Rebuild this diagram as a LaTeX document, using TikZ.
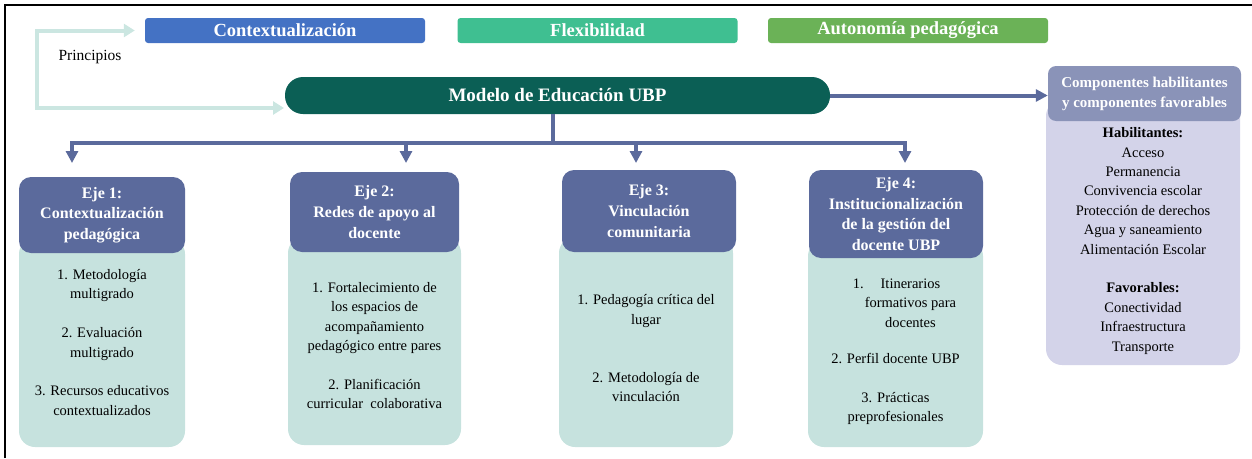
\documentclass[tikz,border=0pt]{standalone}
\usepackage{fontspec}
\setmainfont{Liberation Serif}
\usetikzlibrary{arrows.meta}

\definecolor{azulctx}{HTML}{4472C4}
\definecolor{verdeflex}{HTML}{3FBF91}
\definecolor{verdeauto}{HTML}{6BB257}
\definecolor{verdemodelo}{HTML}{0B5F55}
\definecolor{azuleje}{HTML}{5B6A9C}
\definecolor{aguaeje}{HTML}{C6E2DE}
\definecolor{lilacomp}{HTML}{8A93B8}
\definecolor{lilafondo}{HTML}{D3D3E9}
\definecolor{guiaclaro}{HTML}{CBE6E1}

\begin{document}
\begin{tikzpicture}[x=1pt,y=-1pt,>={Triangle[width=12pt,length=12pt]},
  principio/.style={fill=#1,rounded corners=3pt,minimum width=280pt,minimum height=25pt,
    inner sep=0pt,text=white,font=\fontsize{18.5}{20}\selectfont\bfseries},
  modelo/.style={fill=verdemodelo,rounded corners=18pt,minimum width=545pt,minimum height=37pt,
    inner sep=0pt,text=white,font=\fontsize{19}{21}\selectfont\bfseries},
  ejecab/.style={fill=azuleje,rounded corners=12pt,inner sep=0pt,align=center,text=white,
    font=\fontsize{16}{20.7}\selectfont\bfseries},
  ejecuerpo/.style={fill=aguaeje,rounded corners=16pt,inner sep=0pt},
  ejetexto/.style={align=center,inner sep=0pt,font=\fontsize{14.5}{19.4}\selectfont},
  compcab/.style={fill=lilacomp,rounded corners=8pt,inner sep=0pt,align=center,text=white,
    font=\fontsize{15}{20}\selectfont\bfseries},
  compcuerpo/.style={fill=lilafondo,rounded corners=16pt,inner sep=0pt},
  bus/.style={draw=azuleje,line width=4pt},
  guia/.style={draw=guiaclaro,line width=4pt,
    {Triangle[width=13pt,length=11pt]}-{Triangle[width=13pt,length=11pt]}}]

  \useasboundingbox (0,0) rectangle (1252,458);
  \draw[line width=2pt] (5,458) -- (5,5) -- (1252,5);

  % principios
  \node[principio=azulctx]   (ctx)   at (285,30.5) {Contextualización};
  \node[principio=verdeflex] (flex)  at (597.5,30.5) {Flexibilidad};
  \node[principio=verdeauto] (auton) at (908,30.5) {Autonomía pedagógica};
  \node[font=\fontsize{15.5}{17}\selectfont] (princ) at (90,57) {Principios};

  \node[modelo] (modelo) at (557.5,95.5) {Modelo de Educación UBP};

  % componentes
  \node[compcuerpo,minimum width=194pt,minimum height=265pt] (compb) at (1143,232.5) {};
  \node[compcab,minimum width=193pt,minimum height=55pt] (comph) at (1144.5,93.5)
    {Componentes habilitantes\\y componentes favorables};
  \node[ejetexto] (compt) at (1143,241)
    {\textbf{Habilitantes:}\\Acceso\\Permanencia\\Convivencia escolar\\Protección de derechos\\
     Agua y saneamiento\\Alimentación Escolar\\[19.4pt]
     \textbf{Favorables:}\\Conectividad\\Infraestructura\\Transporte};

  % ejes
  \node[ejecuerpo,minimum width=166pt,minimum height=209pt] (e1b) at (102,342.5) {};
  \node[ejecab,minimum width=166pt,minimum height=76pt] (e1h) at (102,215)
    {Eje 1:\\Contextualización\\pedagógica};
  \node[ejetexto] (e1t) at (102,342.5)
    {1. Metodología\\multigrado\\[19.4pt]2. Evaluación\\multigrado\\[19.4pt]
     3. Recursos educativos\\contextualizados};

  \node[ejecuerpo,minimum width=173pt,minimum height=208pt] (e2b) at (374.5,341) {};
  \node[ejecab,minimum width=169pt,minimum height=80pt] (e2h) at (374.5,212)
    {Eje 2:\\Redes de apoyo al\\docente};
  \node[ejetexto] (e2t) at (374.5,345.5)
    {1. Fortalecimiento de\\los espacios de\\acompañamiento\\pedagógico entre pares\\[19.4pt]
     2. Planificación\\curricular\ \ colaborativa};

  \node[ejecuerpo,minimum width=174pt,minimum height=210pt] (e3b) at (646,342) {};
  \node[ejecab,minimum width=174pt,minimum height=82pt] (e3h) at (649,211)
    {Eje 3:\\Vinculación\\comunitaria};
  \node[ejetexto] (e3t) at (646,348.5)
    {1. Pedagogía crítica del\\lugar\\[38.8pt]2. Metodología de\\vinculación};

  \node[ejecuerpo,minimum width=175pt,minimum height=207pt] (e4b) at (895.5,343.5) {};
  \node[ejecab,minimum width=174pt,minimum height=88pt] (e4h) at (896,214)
    {Eje 4:\\Institucionalización\\de la gestión del\\docente UBP};
  \node[ejetexto] (e4t) at (895.5,350)
    {\begin{tabular}{@{}l@{\hspace{1pt}}c@{}}1.&Itinerarios\\&formativos para\\&docentes\end{tabular}\hspace*{-18pt}\\[19.4pt]
     2. Perfil docente UBP\\[19.4pt]3. Prácticas\\preprofesionales};

  % conectores
  \draw[guia] ([xshift=-10pt]ctx.west) -| (37,108) -- (284,108);

  \draw[bus,->] (modelo.east) -- (modelo.east -| comph.west);

  \coordinate (nudo) at (553,143);
  \foreach \x [count=\i] in {72,406,636,905}{
    \coordinate (d\i) at (\x,143);
    \coordinate (f\i) at (\x,163);
  }
  \draw[bus] (nudo |- modelo.south) -- (nudo);
  \draw[bus,->] (nudo) -| (f1);
  \draw[bus,->] (nudo) -| (f4);
  \draw[bus,->] (d2) -- (f2);
  \draw[bus,->] (d3) -- (f3);
\end{tikzpicture}
\end{document}
